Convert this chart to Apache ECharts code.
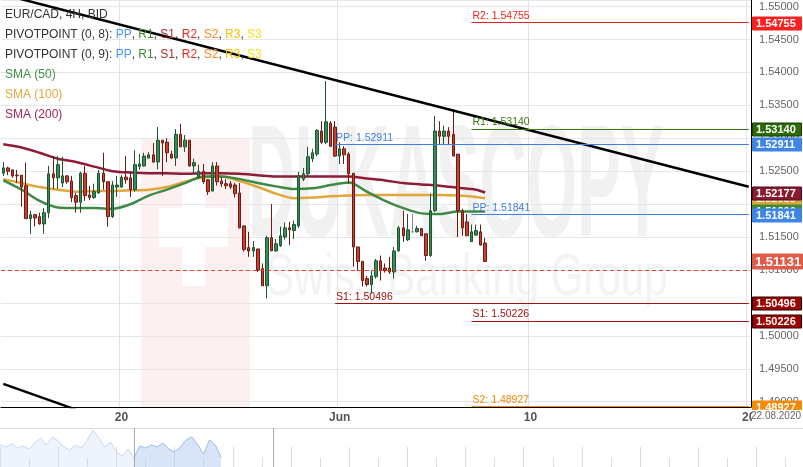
<!DOCTYPE html>
<html>
<head>
<meta charset="utf-8">
<script src="https://cdn.jsdelivr.net/npm/echarts@6/dist/echarts.min.js"></script>
<style>
html, body { margin: 0; padding: 0; background: #fff; }
#chart { width: 803px; height: 467px; }
</style>
</head>
<body>
<div id="chart"></div>
<script>
// trading days shown (4H bars, weekends skipped)
const tradingDays = [
    '2020-05-13', '2020-05-14', '2020-05-15', '2020-05-18', '2020-05-19', '2020-05-20',
    '2020-05-21', '2020-05-22', '2020-05-25', '2020-05-26', '2020-05-27', '2020-05-28',
    '2020-05-29', '2020-06-01', '2020-06-02', '2020-06-03', '2020-06-04', '2020-06-05',
    '2020-06-08', '2020-06-09', '2020-06-10', '2020-06-11', '2020-06-12', '2020-06-15',
    '2020-06-16', '2020-06-17', '2020-06-18', '2020-06-19', '2020-06-22'
]
const barHours = ['00:00', '04:00', '08:00', '12:00', '16:00', '20:00']

const xTickLabels = {
    '2020-05-20 00:00': '20',
    '2020-06-01 00:00': 'Jun',
    '2020-06-10 00:00': '10',
    '2020-06-22 00:00': '20'
}

const opens = [
    1.5247, 1.5255, 1.5252, 1.5244, 1.5244, 1.5228, 1.5178, 1.5184, 1.5181, 1.5170,
    1.5187, 1.5246, 1.5240, 1.5232, 1.5243, 1.5235, 1.5213, 1.5203, 1.5247, 1.5214,
    1.5210, 1.5217, 1.5247, 1.5234, 1.5181, 1.5226, 1.5226, 1.5241, 1.5240, 1.5222,
    1.5257, 1.5258, 1.5270, 1.5275, 1.5264, 1.5297, 1.5294, 1.5276, 1.5270, 1.5306,
    1.5287, 1.5297, 1.5258, 1.5241, 1.5250, 1.5237, 1.5220, 1.5258, 1.5235, 1.5231,
    1.5231, 1.5229, 1.5217, 1.5167, 1.5134, 1.5129, 1.5132, 1.5102, 1.5076, 1.5149,
    1.5129, 1.5137, 1.5150, 1.5164, 1.5160, 1.5167, 1.5238, 1.5246, 1.5269, 1.5276,
    1.5311, 1.5294, 1.5323, 1.5317, 1.5273, 1.5284, 1.5276, 1.5247, 1.5135, 1.5113,
    1.5087, 1.5078, 1.5090, 1.5114, 1.5103, 1.5103, 1.5097, 1.5129, 1.5164, 1.5146,
    1.5158, 1.5158, 1.5163, 1.5155, 1.5122, 1.5190, 1.5311, 1.5303, 1.5311, 1.5306,
    1.5276, 1.5190, 1.5173, 1.5143, 1.5153, 1.5158, 1.5141
]
const closes = [
    1.5255, 1.5250, 1.5243, 1.5243, 1.5226, 1.5178, 1.5184, 1.5179, 1.5170, 1.5187,
    1.5246, 1.5240, 1.5260, 1.5243, 1.5234, 1.5210, 1.5203, 1.5247, 1.5213, 1.5210,
    1.5219, 1.5247, 1.5234, 1.5181, 1.5229, 1.5229, 1.5241, 1.5237, 1.5222, 1.5260,
    1.5261, 1.5273, 1.5275, 1.5264, 1.5297, 1.5293, 1.5278, 1.5270, 1.5306, 1.5287,
    1.5297, 1.5258, 1.5263, 1.5250, 1.5234, 1.5219, 1.5258, 1.5234, 1.5231, 1.5228,
    1.5226, 1.5216, 1.5164, 1.5131, 1.5129, 1.5134, 1.5100, 1.5076, 1.5149, 1.5129,
    1.5140, 1.5152, 1.5164, 1.5161, 1.5169, 1.5243, 1.5246, 1.5272, 1.5278, 1.5312,
    1.5294, 1.5325, 1.5288, 1.5273, 1.5284, 1.5275, 1.5246, 1.5135, 1.5113, 1.5084,
    1.5078, 1.5091, 1.5114, 1.5099, 1.5099, 1.5097, 1.5129, 1.5164, 1.5152, 1.5161,
    1.5158, 1.5163, 1.5152, 1.5122, 1.5190, 1.5311, 1.5303, 1.5311, 1.5303, 1.5273,
    1.5190, 1.5164, 1.5152, 1.5158, 1.5160, 1.5138, 1.51131
]
const lows = [
    1.5243, 1.5244, 1.5240, 1.5232, 1.5196, 1.5178, 1.5155, 1.5166, 1.5169, 1.5155,
    1.5179, 1.5223, 1.5223, 1.5226, 1.5231, 1.5203, 1.5187, 1.5187, 1.5205, 1.5206,
    1.5208, 1.5216, 1.5222, 1.5166, 1.5179, 1.5211, 1.5225, 1.5231, 1.5211, 1.5219,
    1.5252, 1.5257, 1.5269, 1.5263, 1.5253, 1.5243, 1.5264, 1.5269, 1.5258, 1.5287,
    1.5279, 1.5257, 1.5246, 1.5238, 1.5231, 1.5214, 1.5219, 1.5228, 1.5226, 1.5223,
    1.5223, 1.5210, 1.5163, 1.5128, 1.5120, 1.5120, 1.5097, 1.5076, 1.5057, 1.5129,
    1.5128, 1.5135, 1.5146, 1.5138, 1.5147, 1.5164, 1.5235, 1.5241, 1.5264, 1.5273,
    1.5291, 1.5291, 1.5287, 1.5272, 1.5261, 1.5261, 1.5231, 1.5105, 1.5099, 1.5075,
    1.5075, 1.5064, 1.5087, 1.5084, 1.5096, 1.5094, 1.5087, 1.5128, 1.5143, 1.5144,
    1.5157, 1.5157, 1.5152, 1.5114, 1.5120, 1.5188, 1.5291, 1.5291, 1.5291, 1.5273,
    1.5150, 1.5152, 1.5152, 1.5143, 1.5152, 1.5137, 1.5113
]
const highs = [
    1.5264, 1.5257, 1.5253, 1.5252, 1.5244, 1.5263, 1.5190, 1.5185, 1.5187, 1.5194,
    1.5258, 1.5273, 1.5273, 1.5272, 1.5243, 1.5243, 1.5217, 1.5249, 1.5258, 1.5228,
    1.5231, 1.5252, 1.5278, 1.5235, 1.5235, 1.5243, 1.5244, 1.5273, 1.5250, 1.5282,
    1.5276, 1.5278, 1.5279, 1.5293, 1.5317, 1.5297, 1.5300, 1.5281, 1.5314, 1.5322,
    1.5305, 1.5297, 1.5269, 1.5260, 1.5261, 1.5238, 1.5264, 1.5264, 1.5241, 1.5238,
    1.5235, 1.5232, 1.5232, 1.5167, 1.5158, 1.5144, 1.5132, 1.5110, 1.5152, 1.5200,
    1.5147, 1.5166, 1.5172, 1.5173, 1.5175, 1.5249, 1.5255, 1.5287, 1.5284, 1.5314,
    1.5326, 1.5387, 1.5326, 1.5326, 1.5294, 1.5288, 1.5279, 1.5247, 1.5135, 1.5114,
    1.5091, 1.5099, 1.5117, 1.5122, 1.5110, 1.5120, 1.5135, 1.5167, 1.5190, 1.5185,
    1.5185, 1.5167, 1.5164, 1.5155, 1.5216, 1.5334, 1.5326, 1.5319, 1.5317, 1.5344,
    1.5276, 1.5193, 1.5185, 1.5169, 1.5169, 1.5169, 1.5149
]

// moving averages every few bars
const smaIdx = [0, 4, 8, 12, 16, 20, 24, 28, 32, 36, 40, 44, 48, 52, 56, 60, 64, 68, 72, 76, 80, 84, 88, 92, 96, 100, 104, 106]
const sma50 = [
    1.5236, 1.5222, 1.5205, 1.5195, 1.5194, 1.5194, 1.5193, 1.5200, 1.5213, 1.5222,
    1.5232, 1.5242, 1.5242, 1.5238, 1.5232, 1.5227, 1.5223, 1.5224, 1.5229, 1.5233,
    1.5219, 1.5205, 1.5194, 1.5186, 1.5185, 1.5189, 1.5189, 1.5189
]
const sma100 = [
    1.5238, 1.5232, 1.5226, 1.5222, 1.5219, 1.5220, 1.5220, 1.5221, 1.5222, 1.5226,
    1.5234, 1.5241, 1.5242, 1.5235, 1.5226, 1.5216, 1.5209, 1.5210, 1.5212, 1.5213,
    1.5214, 1.5214, 1.5214, 1.5214, 1.5214, 1.5213, 1.5211, 1.52089
]
const sma200 = [
    1.5291, 1.5286, 1.5278, 1.5269, 1.5264, 1.5257, 1.5250, 1.5248, 1.5247, 1.5247,
    1.5246, 1.5247, 1.5247, 1.5246, 1.5244, 1.5242, 1.5242, 1.5242, 1.5242, 1.5242,
    1.5239, 1.5236, 1.5232, 1.5230, 1.5228, 1.5225, 1.5222, 1.52177
]

// weekly pivot levels
const pivotNames = ['R2', 'R1', 'PP', 'PP', 'S1', 'S1', 'S2']
const pivotValues = [1.54755, 1.53140, 1.52911, 1.51841, 1.50496, 1.50226, 1.48927]
const pivotFrom = [
    '2020-06-05 20:00', '2020-06-05 20:00', '2020-05-29 20:00', '2020-06-05 20:00',
    '2020-05-29 20:00', '2020-06-05 20:00', '2020-06-05 20:00'
]
const lastPrice = 1.51131

// trend lines (two anchor bars each)
const trendUpper = [['2020-05-13 16:00', 1.55183], ['2020-06-22 00:00', 1.52264]]
const trendLower = [['2020-05-13 16:00', 1.49271], ['2020-05-18 08:00', 1.48881]]

// navigator: one point per day of the overview strip
const navValues = [
    22, 20, 23, 19, 21, 18, 24, 29, 22, 30, 26, 20, 17, 22, 19, 27, 37, 29, 20, 25,
    15, 11, 18, 9, 21, 19, 22, 20, 24, 18, 15, 20, 27, 30, 22, 13, 27, 22, 10
]
const navDays = 139
const navWindow = [23, 47]

const categories = tradingDays.flatMap(d => barHours.map(h => d + ' ' + h)).slice(4, 169)
const lastCat = categories[categories.length - 1]
const candleData = opens.map((o, i) => [o, closes[i], lows[i], highs[i]])
const pair = (idx, vals) => idx.map((i, k) => [i, vals[k]])
const navCats = Array.from({ length: navDays }, (v, i) => 'd' + i)
const navInWindow = navValues.map((v, i) => (i >= navWindow[0] ? v : null))

const pivotColor = { R2: '#e8231e', R1: '#3b7a12', PP: '#3f7fe0', S1: '#a3120f', S2: '#f08a00' }
const tagBg = { R2: '#ff1f1f', R1: '#2d6a0a', PP: '#3d86e8', S1: '#a00000', S2: '#f58a00' }
const tagBorder = { R2: '#ff1f1f', R1: '#173a03', PP: '#3d86e8', S1: '#2a0000', S2: '#f58a00' }

const FONT = '"Liberation Sans", Arial, sans-serif'

const pivotLines = pivotValues.map((v, k) => {
    const c = pivotColor[pivotNames[k]]
    const ls = { color: c, width: 1, type: 'solid', opacity: 1 }
    return [
        {
            coord: [pivotFrom[k], v],
            lineStyle: ls,
            label: {
                show: true,
                position: 'insideStartTop',
                distance: [1, 1],
                formatter: pivotNames[k] + ': ' + v.toFixed(5),
                color: c,
                fontFamily: FONT,
                fontSize: 10.5
            }
        },
        { coord: [lastCat, v], lineStyle: ls }
    ]
})

// price tags on the right axis (drawn in order, later on top)
const tagList = [
    { v: sma100[sma100.length - 1], bg: '#dfa43a', border: '#dfa43a' },
    { v: sma200[sma200.length - 1], bg: '#8b1a2e', border: '#4a0a16' },
    { v: sma50[sma50.length - 1], bg: '#3e8a44', border: '#3e8a44' },
    ...pivotValues.map((v, k) => ({ v, bg: tagBg[pivotNames[k]], border: tagBorder[pivotNames[k]] })),
    { v: lastPrice, bg: '#e05a48', border: '#e05a48', big: true }
]

const chart = echarts.init(document.getElementById('chart'))

const legendRich = {
    t: { fill: '#333' },
    pp: { fill: '#4f94f0' },
    r1: { fill: '#3a8a2a' },
    s1: { fill: '#b52828' },
    r2: { fill: '#f02a20' },
    s2: { fill: '#f58a1f' },
    r3: { fill: '#f2c200' },
    s3: { fill: '#f5e21b' }
}
const pivotLegend = n =>
    '{t|PIVOTPOINT (0, ' + n + '): }{pp|PP}{t|, }{r1|R1}{t|, }{s1|S1}{t|, }{r2|R2}{t|, }{s2|S2}{t|, }{r3|R3}{t|, }{s3|S3}'

const legendText = (y, text, fill, rich) => ({
    type: 'text',
    x: 5,
    y: y,
    z: 100,
    style: {
        text: text,
        fill: fill,
        font: '12px ' + FONT,
        verticalAlign: 'middle',
        rich: rich
    }
})

const navTickAxis = (show, len) => ({
    gridIndex: 1,
    type: 'category',
    data: navCats,
    boundaryGap: false,
    axisLine: { show: false },
    axisLabel: { show: false },
    axisTick: {
        inside: true,
        length: len,
        interval: (i) => show(i),
        lineStyle: { color: '#dcdcdc' }
    }
})

const option = {
    animation: false,
    backgroundColor: '#fff',
    textStyle: { fontFamily: FONT },
    grid: [
        { left: 1, right: 52, top: 0, bottom: 60 },
        { left: 0, right: 0, top: 428, bottom: 0 }
    ],
    xAxis: [
        {
            type: 'category',
            data: categories,
            boundaryGap: true,
            axisLine: { lineStyle: { color: '#000', width: 1 } },
            axisTick: { show: false },
            axisLabel: {
                interval: (i, v) => xTickLabels[v] !== undefined,
                formatter: v => xTickLabels[v] || '',
                color: '#555',
                fontSize: 12,
                fontWeight: 'bold',
                margin: 5
            },
            splitLine: {
                show: true,
                interval: (i, v) => xTickLabels[v] !== undefined,
                lineStyle: { color: '#e2e2e2' }
            }
        },
        navTickAxis(i => i % 10 === 0, 20),
        { ...navTickAxis(i => i % 10 === 5, 9), position: 'bottom', offset: 0 }
    ],
    yAxis: [
        {
            type: 'value',
            position: 'right',
            min: 1.4892,
            max: 1.5510,
            splitNumber: 12,
            axisLine: { show: true, lineStyle: { color: '#000', width: 1 } },
            axisTick: { show: false },
            axisLabel: {
                color: '#666',
                fontSize: 11,
                margin: 8,
                showMinLabel: false,
                showMaxLabel: false,
                formatter: v => v.toFixed(5)
            },
            splitLine: { lineStyle: { color: '#e6e6e6' } }
        },
        {
            gridIndex: 1,
            type: 'value',
            min: 0,
            max: 39,
            show: false
        }
    ],
    graphic: [
        { type: 'rect', z: -10, shape: { x: 141, y: 138, width: 109, height: 269 }, style: { fill: '#fcf0f0' } },
        { type: 'rect', z: -9, shape: { x: 182, y: 170, width: 23, height: 116 }, style: { fill: '#fff' } },
        { type: 'rect', z: -9, shape: { x: 159, y: 208, width: 69, height: 39 }, style: { fill: '#fff' } },
        {
            type: 'text', z: -9, x: 248, y: 112, scaleX: 0.407,
            style: { text: 'DUKASCOPY', fill: '#f1f1f1', font: 'bold 160px ' + FONT }
        },
        {
            type: 'text', z: -9, x: 266, y: 248, scaleX: 0.7,
            style: { text: 'Swiss Banking Group', fill: '#f3f3f3', font: '60px ' + FONT }
        },
        legendText(15, 'EUR/CAD, 4H, BID', '#333'),
        legendText(35, pivotLegend(8), '#333', legendRich),
        legendText(55, pivotLegend(9), '#333', legendRich),
        legendText(75, 'SMA (50)', '#3f8f48'),
        legendText(95, 'SMA (100)', '#e3a83a'),
        legendText(115, 'SMA (200)', '#a0284a'),
        // keeps the bottom tag from running into the date row
        { type: 'rect', z: 90, shape: { x: 752, y: 410, width: 51, height: 14 }, style: { fill: '#fff' } },
        {
            type: 'text', x: 751, y: 416, z: 100,
            style: { text: '22.08.2020', fill: '#666', font: '10px ' + FONT, verticalAlign: 'middle' }
        }
    ],
    series: [
        {
            name: 'SMA (200)',
            type: 'line',
            data: pair(smaIdx, sma200),
            smooth: 0.3,
            symbol: 'none',
            z: 2,
            lineStyle: { color: '#8e1b37', width: 2.5 }
        },
        {
            name: 'SMA (100)',
            type: 'line',
            data: pair(smaIdx, sma100),
            smooth: 0.3,
            symbol: 'none',
            z: 2,
            lineStyle: { color: '#e0a63a', width: 2.5 }
        },
        {
            name: 'SMA (50)',
            type: 'line',
            data: pair(smaIdx, sma50),
            smooth: 0.3,
            symbol: 'none',
            z: 2,
            lineStyle: { color: '#3e8a44', width: 2.5 }
        },
        {
            name: 'trend',
            type: 'line',
            data: trendUpper,
            symbol: 'none',
            z: 4,
            lineStyle: { color: '#000', width: 2.5 }
        },
        {
            name: 'trend2',
            type: 'line',
            data: trendLower,
            symbol: 'none',
            z: 4,
            lineStyle: { color: '#000', width: 2.5 }
        },
        {
            name: 'EUR/CAD',
            type: 'candlestick',
            data: candleData,
            barWidth: 3,
            z: 3,
            itemStyle: {
                color: '#3b8a58',
                color0: '#c8412f',
                borderColor: '#1d5530',
                borderColor0: '#6e1a14',
                borderColorDoji: '#888',
                borderWidth: 1
            },
            markLine: {
                silent: true,
                symbol: ['none', 'none'],
                animation: false,
                data: [
                    ...pivotLines,
                    {
                        yAxis: lastPrice,
                        lineStyle: { color: '#e4432c', type: [4, 3], width: 1 },
                        label: { show: false }
                    }
                ]
            }
        },
        {
            name: 'navigator',
            type: 'line',
            xAxisIndex: 1,
            yAxisIndex: 1,
            data: navValues,
            symbol: 'none',
            z: 1,
            lineStyle: { color: '#c4d7f4', width: 1 },
            areaStyle: { color: 'rgba(200,218,246,0.45)' },
            markLine: {
                silent: true,
                symbol: ['none', 'none'],
                label: { show: false },
                data: [
                    { yAxis: 39, lineStyle: { color: '#dedede', width: 1, type: 'solid' } },
                    { xAxis: navWindow[0], lineStyle: { color: '#a8a8a8', width: 1, type: 'solid' } },
                    { xAxis: navWindow[1], lineStyle: { color: '#a8a8a8', width: 1, type: 'solid' } }
                ]
            }
        },
        {
            name: 'navigator window',
            type: 'line',
            xAxisIndex: 1,
            yAxisIndex: 1,
            data: navInWindow,
            symbol: 'none',
            z: 1,
            lineStyle: { color: '#a9c3ee', width: 1 },
            areaStyle: { color: 'rgba(170,198,240,0.45)' }
        }
    ]
}

chart.setOption(option)

// place the axis price tags with the chart's own y scale
option.graphic = option.graphic.concat(tagList.map((t, k) => {
    const y = Math.round(chart.convertToPixel({ yAxisIndex: 0 }, t.v))
    const h = t.big ? 15 : 13
    return {
        type: 'group',
        x: 752,
        y: y,
        children: [
            {
                type: 'rect',
                z: 60 + k,
                shape: { x: 0.5, y: -h / 2 + 0.5, width: t.big ? 50 : 49, height: h },
                style: { fill: t.bg, stroke: t.border, lineWidth: 1 }
            },
            {
                type: 'text',
                z: 60 + k,
                z2: 10,
                x: t.big ? 3 : 4,
                y: 1,
                style: {
                    text: t.v.toFixed(5),
                    fill: '#fff',
                    font: 'bold ' + (t.big ? 13 : 11) + 'px ' + FONT,
                    verticalAlign: 'middle'
                }
            }
        ]
    }
}))
chart.setOption(option, true)
</script>
</body>
</html>
